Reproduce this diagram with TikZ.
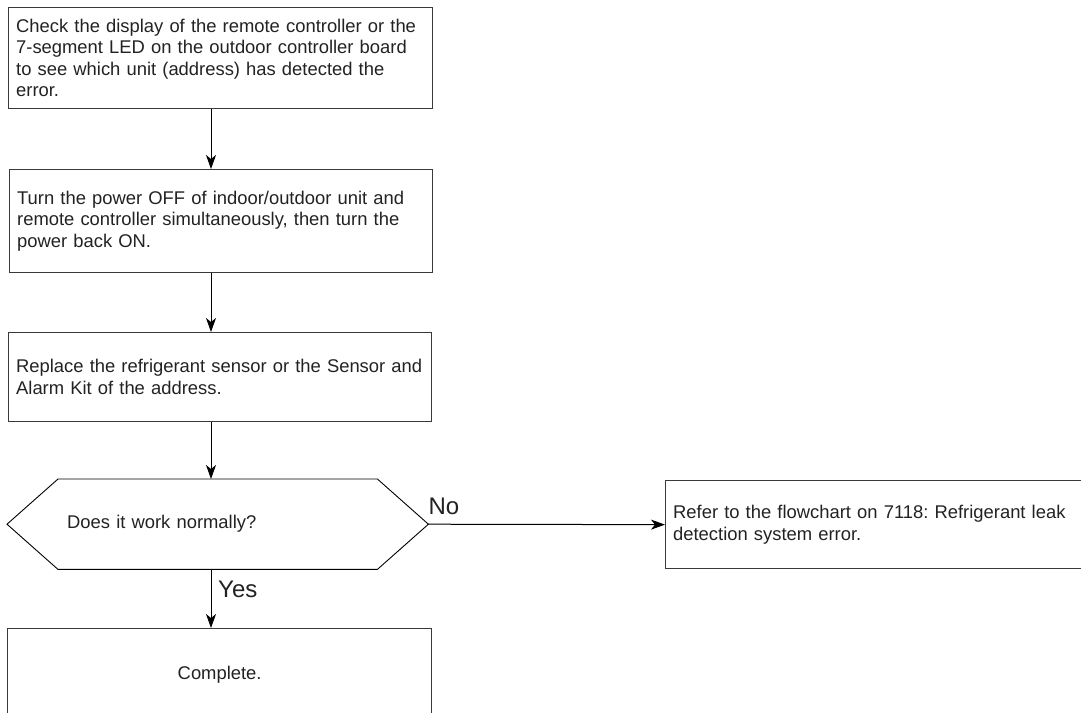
\documentclass[tikz,border=0pt]{standalone}
\usepackage{fontspec}
\setmainfont{Liberation Sans}
\usetikzlibrary{arrows.meta,calc}
\definecolor{boxgray}{HTML}{3A3A3A}
\definecolor{txt}{HTML}{222222}
\frenchspacing
\begin{document}
\begin{tikzpicture}[x=1pt,y=-1pt,
  box/.style={draw=boxgray,line width=1.3pt,rectangle,inner xsep=7.5pt,inner ysep=0pt,
    align=left,font=\fontsize{18.4}{21.5}\selectfont,text=txt,anchor=north west},
  arr/.style={draw=black,line width=1pt,-{Stealth[length=14pt,width=10pt,inset=4pt]}},
  hexline/.style={draw=black,line width=0.9pt,line join=miter},
  lbl/.style={font=\fontsize{24}{28}\selectfont,text=txt,inner sep=0pt}]
\useasboundingbox (0,0) rectangle (1081,712);
\clip (0,0) rectangle (1081,712);
\coordinate (xcol) at (211,0);

\node[box,text width=409pt,minimum height=101pt] (b1) at (8,7)
  {Check the display of the remote controller or the\\
   7-segment LED on the outdoor controller board\\
   to see which unit (address) has detected the\\
   error.};
\node[box,text width=408pt,minimum height=103pt] (b2) at (9,169)
  {Turn the power OFF of indoor/outdoor unit and\\
   remote controller simultaneously, then turn the\\
   power back ON.};
\node[box,text width=408pt,minimum height=89pt] (b3) at (8,332)
  {Replace the refrigerant sensor or the Sensor and\\
   Alarm Kit of the address.};
\node[anchor=north west,minimum width=421pt,minimum height=90pt,inner xsep=60pt,
  text width=301pt,align=left,font=\fontsize{18.4}{21.5}\selectfont,text=txt] (dec) at (7,479)
  {Does it work normally?};
\draw[hexline] (dec.west) -- ($(dec.north west)+(51,0)$) -- ($(dec.north east)+(-51,0)$)
  -- (dec.east) -- ($(dec.south east)+(-51,0)$) -- ($(dec.south west)+(51,0)$) -- cycle;
\node[box,text width=440pt,minimum height=88pt] (ref) at (665,480)
  {Refer to the flowchart on 7118: Refrigerant leak\\
   detection system error.};
\node[box,text width=409pt,minimum height=92pt,align=center] (done) at (7,628)
  {Complete.};

\draw[arr] (xcol |- b1.south) -- (xcol |- b2.north);
\draw[arr] (xcol |- b2.south) -- (xcol |- b3.north);
\draw[arr] (xcol |- b3.south) -- (xcol |- dec.north);
\draw[arr] (xcol |- dec.south) -- (xcol |- done.north);
\draw[arr] (dec.east) -- (ref.west);

\node[lbl,anchor=base west] (no) at ($(dec.east)+(0,-10)$) {No};
\node[lbl,anchor=base west] (yes) at (218,597) {Yes};
\end{tikzpicture}
\end{document}
